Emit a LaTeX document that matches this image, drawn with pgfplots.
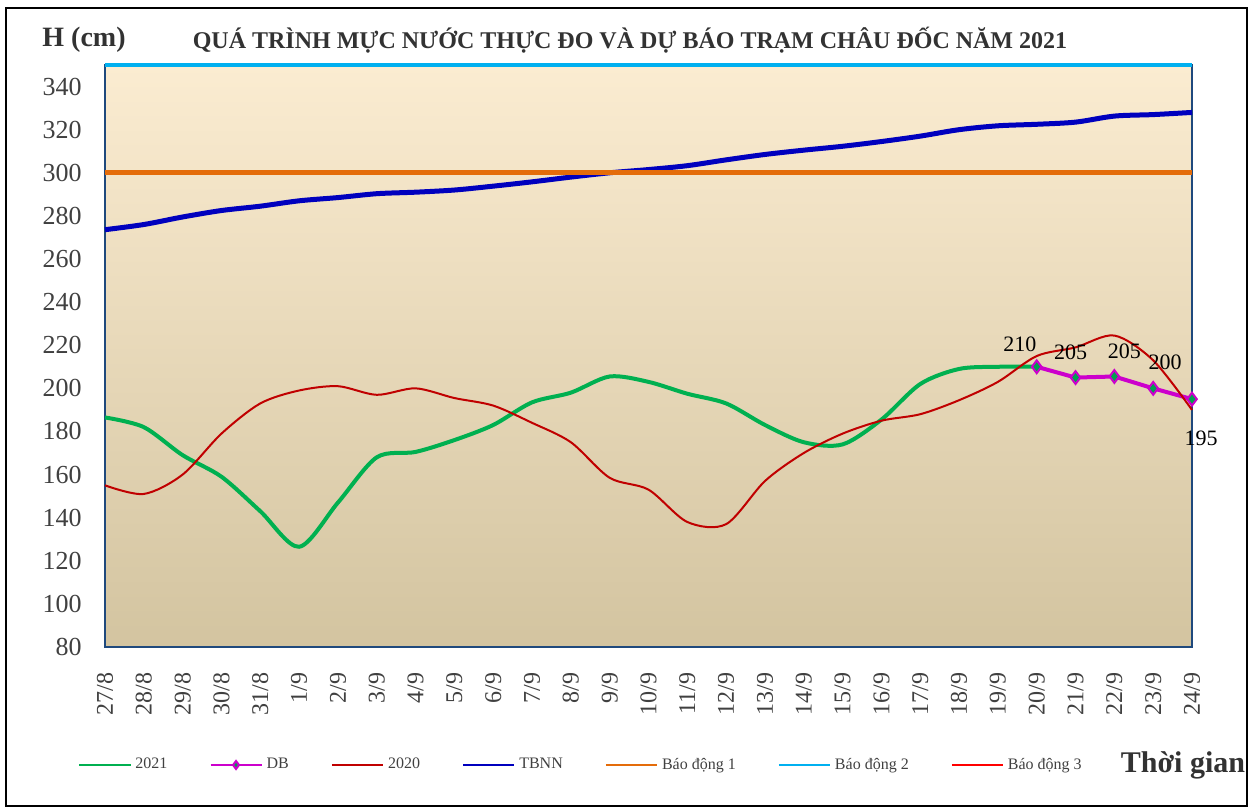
\documentclass[border=0pt]{standalone}
\usepackage{fontspec}
\setmainfont{Liberation Serif}
\usepackage{pgfplots}
\pgfplotsset{compat=1.18}
\definecolor{cGreen}{RGB}{0,176,80}
\definecolor{cMag}{RGB}{204,0,204}
\definecolor{cMarkG}{RGB}{0,160,80}
\definecolor{cRed}{RGB}{192,0,0}
\definecolor{cBlue}{RGB}{0,0,190}
\definecolor{cOrange}{RGB}{228,108,10}
\definecolor{cCyan}{RGB}{0,176,240}
\definecolor{cRed3}{RGB}{255,0,0}
\definecolor{bgtop}{RGB}{251,236,209}
\definecolor{bgmid}{RGB}{241,234,213}
\definecolor{bgbot}{RGB}{211,196,160}
\definecolor{axblue}{RGB}{31,73,125}
\definecolor{axgray}{RGB}{200,200,200}
\definecolor{tickgray}{RGB}{64,64,64}
\definecolor{titlegray}{RGB}{50,50,50}
\begin{document}
\begin{tikzpicture}
\useasboundingbox (0,0) rectangle (626.5pt,-405pt);
\begin{axis}[
  at={(52.5pt,-323.5pt)}, anchor=south west,
  scale only axis, width=543.5pt, height=291pt,
  xmin=0, xmax=28, ymin=80, ymax=350,
  clip=false,
  axis background/.style={top color=bgtop, middle color=bgmid, bottom color=bgbot},
  xtick={0,...,28},
  xticklabels={27/8,28/8,29/8,30/8,31/8,1/9,2/9,3/9,4/9,5/9,6/9,7/9,8/9,9/9,10/9,11/9,12/9,13/9,14/9,15/9,16/9,17/9,18/9,19/9,20/9,21/9,22/9,23/9,24/9},
  ytick={80,100,...,340},
  major tick length=0pt,
  x axis line style={draw=axgray, line width=1pt},
  y axis line style={draw=axblue, line width=0.7pt},
  tick label style={text=tickgray},
  xticklabel style={rotate=90, anchor=east, inner sep=0pt, font=\fontsize{12}{12}\selectfont},
  yticklabel style={anchor=east, inner sep=0pt, font=\fontsize{13}{13}\selectfont},
  xticklabel shift=12.5pt, yticklabel shift=11.5pt,
  /pgf/number format/assume math mode=true,
  legend columns=-1,
  legend cell align=left,
  legend image code/.code={\draw[mark repeat=2,mark phase=2,#1] plot coordinates {(0pt,0pt) (12.75pt,0pt) (25.5pt,0pt)};},
  legend image post style={line width=1.1pt, mark size=2pt},
  legend style={draw=none, fill=none, inner sep=0pt, text=tickgray,
    font=\fontsize{8}{9}\selectfont,
    at={(axis description cs:-0.025,-0.2027)}, anchor=west,
    /tikz/every even column/.append style={column sep=19pt},
    /tikz/every odd column/.append style={column sep=0pt}},
]
\addplot[cGreen, line width=2pt, smooth] coordinates {
(0,186.5) (1,182) (2,169) (3,159) (4,143) (5,126.5) (6,147) (7,168) (8,170.5) (9,176)
(10,183) (11,193.5) (12,198) (13,205.5) (14,203) (15,197.5) (16,193) (17,183) (18,175) (19,174)
(20,185.5) (21,202) (22,209) (23,210) (24,210)};
\addlegendentry{2021}
\addplot[cMag, line width=2pt, mark=diamond*, mark size=3.2pt, mark options={fill=cMarkG, draw=cMag, line width=1pt}] coordinates {
(24,210) (25,205) (26,205.5) (27,200) (28,195)};
\addlegendentry{DB}
\addplot[cRed, line width=1pt, smooth] coordinates {
(0,155) (1,151) (2,160) (3,179) (4,193) (5,199) (6,201) (7,197) (8,200) (9,195.5)
(10,192) (11,184) (12,175) (13,158.5) (14,153) (15,138) (16,137) (17,157) (18,170) (19,179)
(20,185) (21,188) (22,194.5) (23,203) (24,215) (25,219) (26,224.5) (27,213) (28,190)};
\addlegendentry{2020}
\addplot[cBlue, line width=2.5pt, smooth] coordinates {
(0,273.6) (1,276) (2,279.5) (3,282.5) (4,284.5) (5,287) (6,288.5) (7,290.3) (8,291) (9,292)
(10,293.8) (11,295.8) (12,298) (13,300) (14,301.5) (15,303.3) (16,306) (17,308.5) (18,310.5) (19,312.3)
(20,314.5) (21,317) (22,320) (23,321.8) (24,322.5) (25,323.5) (26,326.3) (27,327) (28,328)};
\addlegendentry{TBNN}
\addplot[cOrange, line width=2.5pt] coordinates {(0,300) (28,300)};
\addlegendentry{Báo động 1}
\addplot[cCyan, line width=2pt] coordinates {(0,350) (28,350)};
\addlegendentry{Báo động 2}
\addlegendimage{cRed3}
\addlegendentry{Báo động 3}
\node[font=\fontsize{11}{11}\selectfont, anchor=south east, inner sep=0pt, yshift=7.5pt] at (axis cs:24,210) {210};
\node[font=\fontsize{11}{11}\selectfont, anchor=south, inner sep=0pt, xshift=-2.5pt, yshift=8.5pt] at (axis cs:25,205) {205};
\node[font=\fontsize{11}{11}\selectfont, anchor=south, inner sep=0pt, xshift=5pt, yshift=8.5pt] at (axis cs:26,205.5) {205};
\node[font=\fontsize{11}{11}\selectfont, anchor=south, inner sep=0pt, xshift=6pt, yshift=9pt] at (axis cs:27,200) {200};
\node[font=\fontsize{11}{11}\selectfont, anchor=north, inner sep=0pt, xshift=4.5pt, yshift=-15.5pt] at (axis cs:28,195) {195};
\end{axis}
\node[font=\bfseries\fontsize{14}{14}\selectfont, text=titlegray] at (42pt,-20pt) {H (cm)};
\node[font=\bfseries\fontsize{12}{12}\selectfont, text=titlegray] at (315pt,-20pt) {QUÁ TRÌNH MỰC NƯỚC THỰC ĐO VÀ DỰ BÁO TRẠM CHÂU ĐỐC NĂM 2021};
\node[font=\bfseries\fontsize{15}{15}\selectfont, text=titlegray] at (591.5pt,-382.5pt) {Thời gian};
\draw[black, line width=1pt] (3pt,-4pt) rectangle (623.5pt,-403pt);
\end{tikzpicture}
\end{document}
